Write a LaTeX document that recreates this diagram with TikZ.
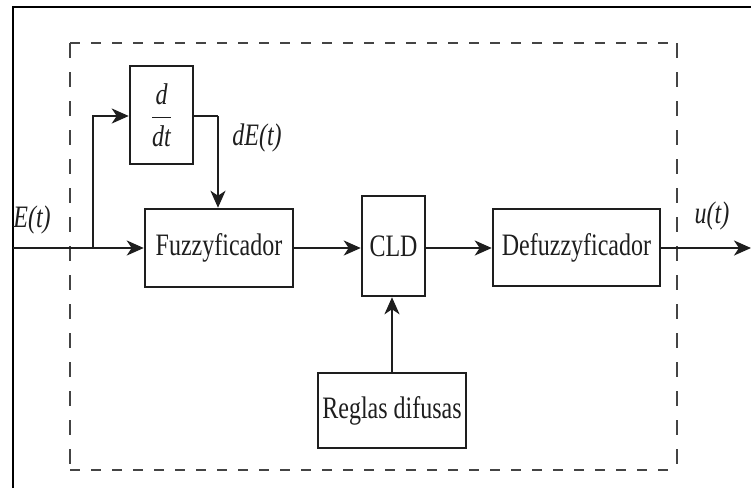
\documentclass[tikz,border=0pt]{standalone}
\usepackage{fontspec}
\setmainfont{Liberation Serif}
\usetikzlibrary{arrows.meta}
\definecolor{ln}{HTML}{1E1E1E}
\definecolor{dsh}{HTML}{444444}
\begin{document}
\begin{tikzpicture}[x=1pt,y=-1pt,
  blk/.style={draw=ln,line width=2.5pt,minimum width=#1,inner sep=0pt,
    font=\fontsize{24}{28}\selectfont,text=ln},
  arr/.style={draw=ln,line width=2.5pt,-{Stealth[length=17pt,width=15pt,inset=5pt]}},
  wire/.style={draw=ln,line width=2.5pt},
  hdash/.style={dsh,line width=2.5pt,dash pattern=on 10pt off 11pt},
  vdash/.style={dsh,line width=2.5pt,dash pattern=on 15pt off 14pt},
  lbl/.style={font=\fontsize{24}{28}\selectfont\itshape,text=ln,inner sep=0pt}]
\useasboundingbox (0,0) rectangle (751,488);
% outer frame (top and left only)
\draw[line width=2.8pt,black] (13,488) -- (13,7) -- (751,7);
% dashed boundary
\coordinate (b1) at (70,43);
\coordinate (b2) at (677,43);
\coordinate (b3) at (677,470);
\coordinate (b4) at (70,470);
\draw[hdash] (b1) -- (b2);
\draw[hdash] (b4) -- (b3);
\draw[vdash] (b1) -- (b4);
\draw[vdash] (b2) -- (b3);
% blocks
\node[blk=63pt,minimum height=98pt] (ddt) at (161.5,115) {\scalebox{1}[1.25]{$\displaystyle\frac{\mbox{\itshape d}}{\mbox{\itshape dt}}$}};
\node[blk=148pt,minimum height=78pt] (fuzz) at (219,248) {\scalebox{1}[1.3]{Fuzzyficador}};
\node[blk=63pt,minimum height=100pt] (cld) at (393.5,246) {\scalebox{1}[1.3]{CLD}};
\node[blk=167pt,minimum height=77pt] (defuzz) at (576.5,247.5) {\scalebox{1}[1.3]{Defuzzyficador}};
\node[blk=148pt,minimum height=75pt] (reglas) at (392,410.5) {\scalebox{1}[1.3]{Reglas difusas}};
% labels
\node[lbl] (lE) at (32,220) {\scalebox{1}[1.3]{E(t)}};
\node[lbl] (ldE) at (257,138) {\scalebox{1}[1.3]{dE(t)}};
\node[lbl] (lu) at (712,216) {\scalebox{1}[1.3]{u(t)}};
% coordinates
\coordinate (in) at (13,248);
\coordinate (br) at (93,248);
\coordinate (k) at (218,116);
\coordinate (out) at (751,248);
% connectors
\draw[arr] (in) -- (fuzz.west);
\draw[arr] (br) -- (br |- k) -- (ddt.west |- k);
\draw[wire] (ddt.east |- k) -- (k);
\draw[arr] (k) -- (k |- fuzz.north);
\draw[arr] (fuzz.east) -- (fuzz.east -| cld.west);
\draw[arr] (cld.east |- fuzz.east) -- (cld.east |- fuzz.east -| defuzz.west);
\draw[arr] (defuzz.east |- in) -- (out);
\draw[arr] (reglas.north) -- (reglas.north |- cld.south);
\end{tikzpicture}
\end{document}
